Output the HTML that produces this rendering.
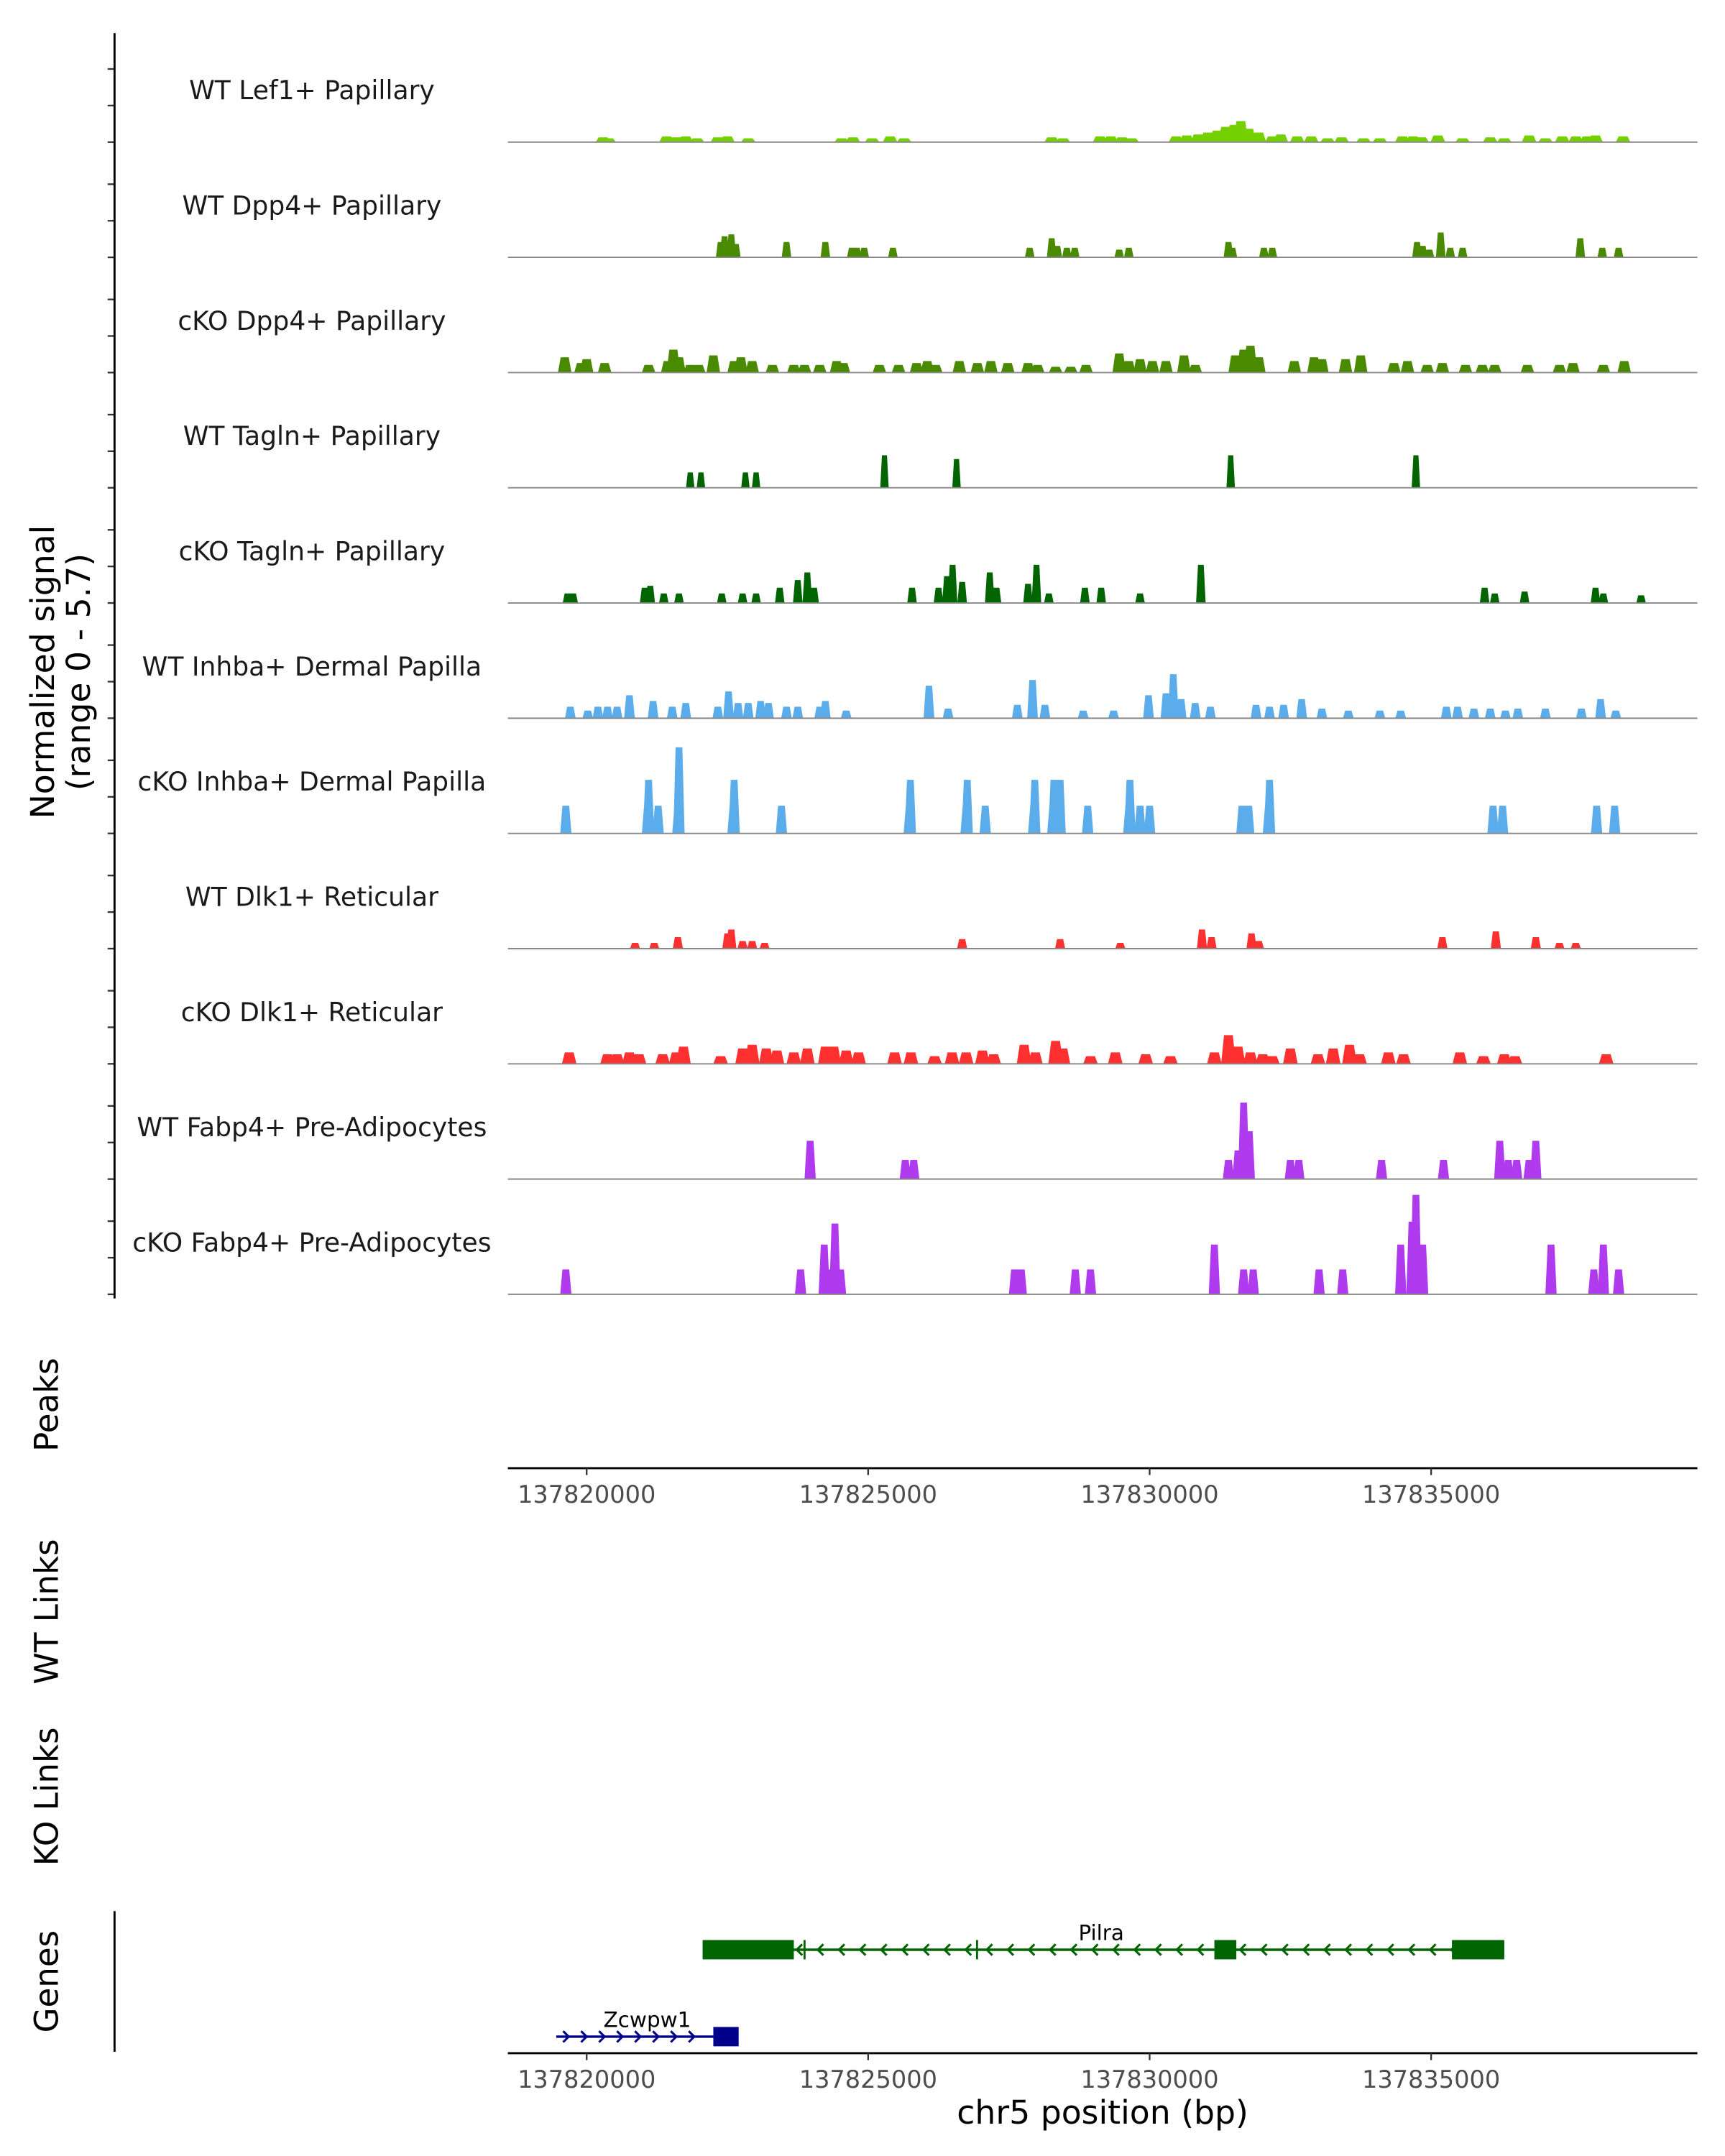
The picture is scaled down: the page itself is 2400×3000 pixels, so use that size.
<!DOCTYPE html>
<html><head><meta charset="utf-8"><style>
html,body{margin:0;padding:0;background:#fff;}
svg{display:block;font-family:"DejaVu Sans","Liberation Sans",sans-serif;}
</style></head><body>
<svg id="chart" width="2400" height="3000" viewBox="0 0 1250 1562.5" xmlns="http://www.w3.org/2000/svg">
<rect width="1250" height="1562.5" fill="#fff"/>
<g id="tracks"></g>
<g id="axes"></g>
<g id="genes"></g>
</svg>
<script>
const OFFSET_KB = 137800;
const XMIN_KB = 18.6, XMAX_KB = 39.73;
const YMAX = 5.7;
const trackNames = ["WT Lef1+ Papillary","WT Dpp4+ Papillary","cKO Dpp4+ Papillary","WT Tagln+ Papillary","cKO Tagln+ Papillary","WT Inhba+ Dermal Papilla","cKO Inhba+ Dermal Papilla","WT Dlk1+ Reticular","cKO Dlk1+ Reticular","WT Fabp4+ Pre-Adipocytes","cKO Fabp4+ Pre-Adipocytes"];
const trackColors = ["#74d000","#4a8a00","#4a8a00","#006400","#006400","#5aacea","#5aacea","#ff3030","#ff3030","#b03aee","#b03aee"];
const xTickLabels = [137820000,137825000,137830000,137835000];
// peaks: [position kb (offset), signal]
const lef1WT = [[20.29,.25],[20.39,.2],[21.42,.3],[21.59,.25],[21.76,.3],[21.96,.2],[22.33,.25],[22.5,.3],[22.87,.2],[24.53,.2],[24.73,.25],[25.07,.2],[25.39,.3],[25.64,.2],[28.26,.25],[28.46,.2],[29.12,.3],[29.31,.3],[29.51,.25],[29.68,.2],[30.47,.3],[30.66,.35],[30.86,.4],[31.03,.5],[31.2,.6],[31.35,.8],[31.5,.9],[31.62,1.1],[31.76,.7],[31.94,.5],[32.18,.3],[32.33,.4],[32.62,.3],[32.87,.3],[33.16,.2],[33.41,.25],[33.8,.2],[34.09,.2],[34.49,.3],[34.68,.3],[34.83,.25],[35.12,.35],[35.56,.2],[36.05,.25],[36.3,.2],[36.74,.35],[37.03,.2],[37.33,.3],[37.57,.3],[37.77,.3],[37.92,.35],[38.41,.3]];
const dpp4WT = [[22.38,.8],[22.45,1.1],[22.57,1.2],[22.65,.7],[23.55,.8],[24.24,.8],[24.71,.5],[24.8,.5],[24.93,.5],[25.44,.5],[27.87,.5],[28.26,1.0],[28.36,.6],[28.53,.5],[28.67,.5],[29.46,.4],[29.63,.5],[31.4,.8],[31.47,.5],[32.03,.5],[32.18,.5],[34.75,.8],[34.85,.6],[34.97,.4],[35.17,1.3],[35.34,.5],[35.56,.5],[37.65,1.0],[38.04,.5],[38.33,.5]];
const dpp4KO = [[19.61,.8],[19.9,.5],[20,.7],[20.32,.5],[21.1,.4],[21.44,.6],[21.54,1.2],[21.64,.8],[21.84,.4],[21.99,.4],[22.25,.9],[22.62,.6],[22.74,.8],[22.94,.6],[23.3,.4],[23.68,.4],[23.87,.4],[24.14,.4],[24.44,.6],[24.56,.5],[25.2,.4],[25.54,.4],[25.86,.5],[26.05,.6],[26.2,.4],[26.62,.6],[26.94,.5],[27.18,.6],[27.48,.5],[27.84,.5],[28.01,.4],[28.33,.3],[28.6,.3],[28.87,.4],[29.46,1.0],[29.63,.6],[29.83,.7],[30.05,.6],[30.29,.6],[30.61,.9],[30.81,.4],[31.52,.9],[31.67,1.2],[31.79,1.4],[31.94,.8],[32.57,.6],[32.92,.8],[33.06,.7],[33.48,.7],[33.75,.9],[34.34,.5],[34.58,.6],[34.93,.4],[35.2,.5],[35.61,.4],[35.91,.4],[36.13,.4],[36.71,.4],[37.28,.4],[37.52,.5],[38.06,.4],[38.43,.6]];
const taglnWT = [[21.84,.8],[22.03,.8],[22.82,.8],[23.01,.8],[25.29,1.7],[26.57,1.5],[31.44,1.7],[34.73,1.7]];
const taglnKO = [[19.66,.5],[19.76,.5],[21.03,.8],[21.13,.9],[21.37,.5],[21.64,.5],[22.4,.5],[22.77,.5],[23.01,.5],[23.43,.8],[23.75,1.2],[23.92,1.6],[24.04,.8],[25.78,.8],[26.25,.8],[26.4,1.4],[26.5,2.0],[26.67,1.1],[27.16,1.6],[27.28,.8],[27.84,1.0],[27.99,2.0],[28.21,.5],[28.85,.8],[29.14,.8],[29.83,.5],[30.91,2.0],[35.95,.8],[36.13,.5],[36.66,.6],[37.92,.8],[38.06,.5],[38.73,.4]];
const inhbaWT = [[19.71,.6],[20.02,.4],[20.2,.6],[20.37,.6],[20.54,.6],[20.76,1.2],[21.18,.9],[21.52,.6],[21.76,.8],[22.33,.6],[22.52,1.4],[22.69,.8],[22.87,.8],[23.09,.9],[23.23,.8],[23.55,.6],[23.75,.6],[24.14,.6],[24.24,.9],[24.61,.4],[26.08,1.7],[26.42,.5],[27.65,.7],[27.92,2.0],[28.14,.7],[28.82,.4],[29.36,.4],[29.98,1.2],[30.29,1.3],[30.42,2.3],[30.56,1.0],[30.81,.8],[31.08,.6],[31.89,.7],[32.13,.6],[32.38,.7],[32.7,1.0],[33.06,.5],[33.53,.4],[34.09,.4],[34.46,.4],[35.27,.6],[35.47,.6],[35.76,.5],[36.05,.5],[36.32,.4],[36.54,.5],[37.03,.5],[37.67,.5],[38.01,1.0],[38.28,.4]];
const inhbaKO = [[19.63,1.45],[21.08,1.45],[21.1,2.8],[21.27,1.45],[21.62,1.45],[21.64,4.5],[22.6,1.45],[22.62,2.8],[23.46,1.45],[25.73,1.45],[25.75,2.8],[26.74,1.45],[26.76,2.8],[27.08,1.45],[27.94,1.45],[27.96,2.8],[28.28,1.45],[28.3,2.8],[28.41,2.8],[28.9,1.45],[29.63,1.45],[29.65,2.8],[29.83,1.45],[30,1.45],[31.64,1.45],[31.76,1.45],[32.11,1.45],[32.13,2.8],[36.1,1.45],[36.27,1.45],[37.94,1.45],[38.26,1.45]];
const dlk1WT = [[20.86,.3],[21.2,.3],[21.62,.6],[22.5,.8],[22.57,1.0],[22.77,.4],[22.94,.4],[23.16,.3],[26.67,.5],[28.41,.5],[29.48,.3],[30.93,1.0],[31.1,.6],[31.81,.8],[31.94,.4],[35.2,.6],[36.15,.9],[36.86,.6],[37.28,.3],[37.57,.3]];
const dlk1KO = [[19.69,.6],[20.37,.5],[20.54,.5],[20.76,.6],[20.93,.5],[21.35,.5],[21.59,.6],[21.72,.9],[22.38,.4],[22.77,.8],[22.94,1.0],[23.19,.8],[23.38,.7],[23.68,.6],[23.92,.8],[24.24,.9],[24.39,.9],[24.61,.7],[24.83,.6],[25.47,.6],[25.76,.6],[26.18,.4],[26.49,.6],[26.74,.6],[27.03,.7],[27.23,.5],[27.77,1.0],[27.97,.6],[28.33,1.2],[28.46,.8],[28.95,.4],[29.39,.6],[29.93,.5],[30.37,.4],[31.15,.6],[31.4,1.5],[31.57,.9],[31.79,.6],[32.01,.5],[32.18,.4],[32.5,.8],[32.99,.5],[33.26,.8],[33.55,1.0],[33.73,.5],[34.24,.6],[34.51,.5],[35.51,.6],[35.93,.4],[36.3,.5],[36.49,.4],[38.11,.5]];
const fabp4WT = [[23.97,2.0],[25.66,1.0],[25.81,1.0],[31.4,1.0],[31.57,1.5],[31.67,4.0],[31.77,2.5],[32.5,1.0],[32.65,1.0],[34.12,1.0],[35.22,1.0],[36.22,2.0],[36.37,1.0],[36.52,1.0],[36.74,1.0],[36.86,2.0]];
const fabp4KO = [[19.63,1.3],[23.8,1.3],[24.22,2.6],[24.31,1.3],[24.41,3.7],[24.51,1.3],[27.6,1.3],[27.72,1.3],[28.68,1.3],[28.95,1.3],[31.15,2.6],[31.67,1.3],[31.84,1.3],[33.01,1.3],[33.43,1.3],[34.46,2.6],[34.66,3.8],[34.73,5.2],[34.85,2.6],[37.13,2.6],[37.89,1.3],[38.06,2.6],[38.33,1.3]];
const trackData = [lef1WT,dpp4WT,dpp4KO,taglnWT,taglnKO,inhbaWT,inhbaKO,dlk1WT,dlk1KO,fabp4WT,fabp4KO];
const peakWidths = [0.26,0.17,0.24,0.15,0.17,0.19,0.2,0.18,0.26,0.2,0.2];
// genes: [start kb, end kb]
const pilraSpan = [22.06,36.3];
const pilraExons = [[22.06,23.68],[31.15,31.54],[35.37,36.3]];
const zcwSpan = [19.46,22.25];
const zcwExons = [[22.25,22.7]];

const NS="http://www.w3.org/2000/svg";
const X0=368,X1=1230;
function xs(kb){return X0+(kb-XMIN_KB)/(XMAX_KB-XMIN_KB)*(X1-X0);}
const TH=79;
function base(i){return 103+i*83.5;}
function ys(v,i){return base(i)-v/YMAX*TH;}
function mk(tag,attrs,parent){const e=document.createElementNS(NS,tag);for(const k in attrs)e.setAttribute(k,attrs[k]);parent.appendChild(e);return e;}
const tracks=document.getElementById('tracks'),axes=document.getElementById('axes'),genes=document.getElementById('genes');

trackData.forEach((d,i)=>{
  const g=mk('g',{},tracks);
  
  
  const t=mk('text',{x:226,y:base(i)-31,'text-anchor':'middle','font-size':18.8,fill:'#1a1a1a'},g);
  t.textContent=trackNames[i];
  
  
  const w=peakWidths[i];
  d.forEach(p=>{
    const a=xs(p[0]-w/2),b=xs(p[0]+w/2),top=ys(p[1],i),y0=base(i),s=(b-a)*0.2;
    const poly=mk('polygon',{points:`${a},${y0} ${a+s},${top} ${b-s},${top} ${b},${y0}`,fill:trackColors[i]},g);
    
    
  });
  const l=mk('line',{x1:X0,x2:X1,y1:base(i),y2:base(i),stroke:'#888',"stroke-width":1},g);
  
  
  [0,1,2].forEach(k=>{
    const yy=base(i)-k*26.5;
    const tk=mk('line',{x1:78,x2:83,y1:yy,y2:yy,stroke:'#333','stroke-width':1.2},axes);
    
    
  });
});
mk('line',{x1:83,x2:83,y1:24,y2:941,stroke:'#000','stroke-width':1.5},axes);
const yt=mk('text',{transform:'translate(44,487) rotate(-90)','text-anchor':'middle','font-size':23.8,fill:'#000'},axes);


mk('tspan',{x:0,dy:-5},yt).textContent='Normalized signal';
mk('tspan',{x:0,dy:26},yt).textContent='(range 0 - 5.7)';

function leftTitle(txt,y,name){const t=mk('text',{transform:`translate(42,${y}) rotate(-90)`,'text-anchor':'middle','font-size':23.5,fill:'#000'},axes);t.textContent=txt;}
leftTitle('Peaks',1018,'peaks-title');
leftTitle('WT Links',1168,'wt-links-title');
leftTitle('KO Links',1302,'ko-links-title');
leftTitle('Genes',1436,'genes-title');

function xAxis(y,name){
  const g=mk('g',{},axes);
  
  
  mk('line',{x1:X0,x2:X1,y1:y,y2:y,stroke:'#000','stroke-width':1.5},g);
  xTickLabels.forEach(v=>{
    const x=xs(v/1000-OFFSET_KB);
    mk('line',{x1:x,x2:x,y1:y,y2:y+5,stroke:'#333','stroke-width':1.2},g);
    const t=mk('text',{x:x,y:y+25,'text-anchor':'middle','font-size':17.5,fill:'#4d4d4d'},g);
    t.textContent=v;
    
    
  });
}
xAxis(1064,'peaks-x-axis');
xAxis(1488,'genes-x-axis');
const xt=mk('text',{x:799,y:1539,'text-anchor':'middle','font-size':23.8,fill:'#000'},axes);
xt.textContent='chr5 position (bp)';


mk('line',{x1:83,x2:83,y1:1385,y2:1487,stroke:'#000','stroke-width':1.5},axes);

function gene(span,exons,y,color,dir,label,lx,name){
  const g=mk('g',{},genes);
  
  
  const a=xs(span[0]),b=xs(span[1]);
  mk('line',{x1:a,x2:b,y1:y,y2:y,stroke:color,'stroke-width':1.8},g);
  const step=dir<0?15.3:13;
  for(let x=a+8;x<b-4;x+=step){
    const p=dir<0?`${x+3},${y-4} ${x-1},${y} ${x+3},${y+4}`:`${x-3},${y-4} ${x+1},${y} ${x-3},${y+4}`;
    mk('polyline',{points:p,fill:'none',stroke:color,'stroke-width':1.6},g);
  }
  exons.forEach(e=>{const r=mk('rect',{x:xs(e[0]),y:y-7,width:xs(e[1])-xs(e[0]),height:14,fill:color},g);});
  const t=mk('text',{x:lx,y:y-7,'text-anchor':'middle','font-size':15.3,fill:'#000'},g);
  t.textContent=label;
  
  
  return g;
}
gene(pilraSpan,pilraExons,1413,'#006400',-1,'Pilra',798,'gene-pilra');
gene(zcwSpan,zcwExons,1476,'#00008b',1,'Zcwpw1',469,'gene-zcwpw1');
[583,708].forEach(x=>mk('line',{x1:x,x2:x,y1:1406,y2:1420,stroke:'#006400','stroke-width':1.5},genes));
</script>
</body></html>
